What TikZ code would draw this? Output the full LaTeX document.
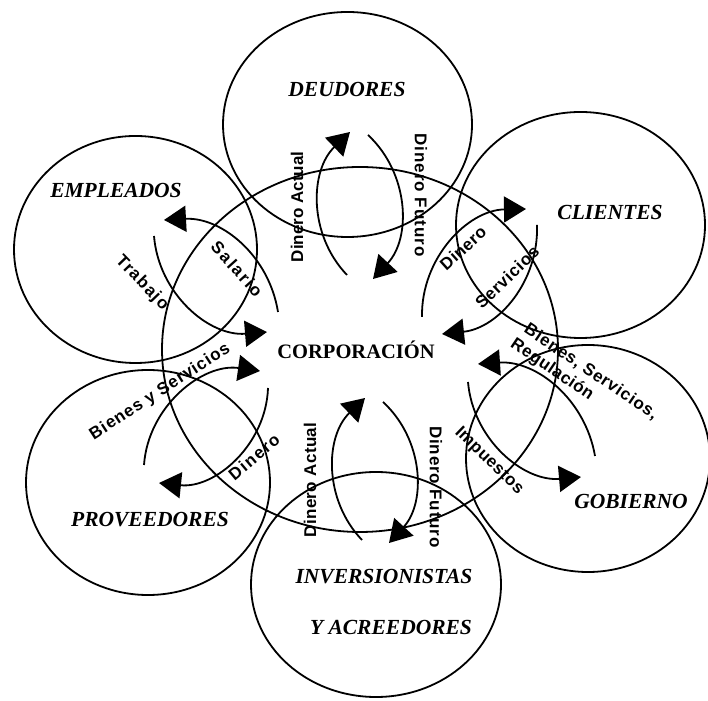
\documentclass[tikz,border=0pt]{standalone}
\usepackage{fontspec}
\setmainfont{Liberation Serif}
\newfontfamily\lab{Liberation Sans}
\usetikzlibrary{arrows.meta,shapes.geometric}
\begin{document}
\begin{tikzpicture}[x=1pt,y=1pt,
  ring/.style={draw, ellipse, line width=1.8pt, inner sep=0pt},
  flow/.style={line width=1.8pt, -{Triangle[length=22pt,width=26pt]}},
  ent/.style={font=\fontsize{21.5}{24}\selectfont\bfseries\itshape, inner sep=0pt, anchor=base},
  corp/.style={font=\fontsize{20.5}{24}\selectfont\bfseries, inner sep=0pt, anchor=base},
  lbl/.style={font={\fontsize{17}{20}\selectfont\lab\bfseries\addfontfeatures{LetterSpace=#1}}, inner sep=0pt},
]
\useasboundingbox (0,0) rectangle (708,700);

% circles
\node[ring, minimum width=396pt, minimum height=365pt] (cor) at (360,350.5) {};
\node[ring, minimum width=249pt, minimum height=225pt] (deu) at (347.5,575.5) {};
\node[ring, minimum width=243pt, minimum height=227pt] (emp) at (135.5,450.5) {};
\node[ring, minimum width=249pt, minimum height=226pt] (cli) at (580.5,475) {};
\node[ring, minimum width=244pt, minimum height=227pt] (gob) at (588,241.5) {};
\node[ring, minimum width=244pt, minimum height=225pt] (pro) at (148,217.5) {};
\node[ring, minimum width=250pt, minimum height=225pt] (inv) at (376,115.5) {};

% arc end points
\coordinate (a1s) at (347,425); \coordinate (a1e) at (350,568);
\coordinate (a2s) at (368,565); \coordinate (a2e) at (373,421);
\coordinate (b1s) at (278,388); \coordinate (b1e) at (164,480);
\coordinate (b2s) at (154,464); \coordinate (b2e) at (267,368);
\coordinate (c1s) at (422,383); \coordinate (c1e) at (526,491);
\coordinate (c2s) at (537,475); \coordinate (c2e) at (442,366);
\coordinate (g1s) at (595,244); \coordinate (g1e) at (478,336);
\coordinate (g2s) at (468,318); \coordinate (g2e) at (581,223);
\coordinate (p1s) at (144,235); \coordinate (p1e) at (260,329);
\coordinate (p2s) at (268,312); \coordinate (p2e) at (159,217);
\coordinate (i1s) at (362,160); \coordinate (i1e) at (365,302);
\coordinate (i2s) at (383,298); \coordinate (i2e) at (389,157);

\draw[flow] (a1s) to[bend left=45] (a1e);
\draw[flow] (a2s) to[bend left=45] (a2e);
\draw[flow] (b1s) to[bend right=42] (b1e);
\draw[flow] (b2s) to[bend right=45] (b2e);
\draw[flow] (c1s) to[bend left=45] (c1e);
\draw[flow] (c2s) to[bend left=43] (c2e);
\draw[flow] (g1s) to[bend right=42] (g1e);
\draw[flow] (g2s) to[bend right=45] (g2e);
\draw[flow] (p1s) to[bend left=47] (p1e);
\draw[flow] (p2s) to[bend left=47] (p2e);
\draw[flow] (i1s) to[bend left=45] (i1e);
\draw[flow] (i2s) to[bend left=45] (i2e);

% entity labels
\node[ent] (tdeu) at (347,603) {DEUDORES};
\node[ent] (temp) at (116,502) {EMPLEADOS};
\node[ent] (tcli) at (610,480) {CLIENTES};
\node[corp] (tcor) at (356,341) {CORPORACIÓN};
\node[ent] (tgob) at (631,191) {GOBIERNO};
\node[ent] (tpro) at (150,173) {PROVEEDORES};
\node[ent] (tinv) at (384,116) {INVERSIONISTAS};
\node[ent] (tacr) at (391,65) {Y ACREEDORES};

% flow labels
\node[lbl=0, rotate=90] (l1) at (297,493) {Dinero Actual};
\node[lbl=5.7, rotate=-90] (l2) at (421,505) {Dinero Futuro};
\node[lbl=11, rotate=-48] (l3) at (237,431) {Salario};
\node[lbl=8, rotate=-46] (l4) at (142,417) {Trabajo};
\node[lbl=2, rotate=42] (l5) at (463,452) {Dinero};
\node[lbl=4, rotate=44] (l6) at (507,423) {Servicios};
\node[lbl=4.4, rotate=-34] (l7) at (591,328) {Bienes, Servicios,};
\node[lbl=2.9, rotate=-34] (l8) at (552,330) {Regulación};
\node[lbl=2.6, rotate=-44] (l9) at (489,239) {Impuestos};
\node[lbl=4.8, rotate=-90] (l10) at (436,213) {Dinero Futuro};
\node[lbl=2.5, rotate=90] (l11) at (310,220) {Dinero Actual};
\node[lbl=5.2, rotate=33] (l12) at (160,308) {Bienes y Servicios};
\node[lbl=8, rotate=40] (l13) at (254,243) {Dinero};
\end{tikzpicture}
\end{document}
